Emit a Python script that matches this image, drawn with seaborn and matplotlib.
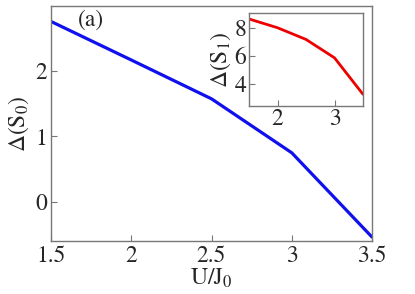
import matplotlib
matplotlib.use("Agg")
import matplotlib.pyplot as plt
import seaborn as sns
import pandas as pd

# Data
u_vals = [1.5, 2.0, 2.5, 3.0, 3.5]
delta_s0 = [2.745, 2.16, 1.57, 0.75, -0.53]
delta_s1 = [8.67, 8.04, 7.2, 5.88, 3.26]
main_xticks = [1.5, 2, 2.5, 3, 3.5]
main_xticklabels = ["1.5", "2", "2.5", "3", "3.5"]
main_yticks = [0, 1, 2]
inset_xticks = [2, 3]
inset_yticks = [4, 6, 8]

sns.set_style("ticks")
plt.rcParams['font.family'] = ['STIXGeneral', 'DejaVu Serif']
plt.rcParams['mathtext.fontset'] = 'stix'
plt.rcParams['mathtext.default'] = 'regular'

df = pd.DataFrame({"U": u_vals, "S0": delta_s0, "S1": delta_s1})

fig = plt.figure(figsize=(4.15, 2.94), dpi=100)
W, H = 415, 294
ax = fig.add_axes([51 / W, 1 - 241 / H, (372 - 51) / W, (241 - 6) / H])
sns.lineplot(data=df, x="U", y="S0", ax=ax, color="#1010ee", lw=2.3)
ax.set_xlim(1.5, 3.5)
ax.set_ylim(-0.59, 2.98)
ax.set_xticks(main_xticks)
ax.set_xticklabels(main_xticklabels)
ax.set_yticks(main_yticks)
ax.tick_params(direction="in", length=4, labelsize=17, color="#777777", pad=3)
for s in ax.spines.values():
    s.set_color("#777777")
    s.set_linewidth(1.0)
ax.set_xlabel("U/J$_0$", fontsize=17, labelpad=0)
ax.set_ylabel("Δ(S$_0$)", fontsize=17, labelpad=3)
ax.text(0.085, 0.985, "(a)", transform=ax.transAxes, fontsize=17, va="top", ha="left")

ax2 = fig.add_axes([249 / W, 1 - 106 / H, (363 - 249) / W, (106 - 12.7) / H])
sns.lineplot(data=df, x="U", y="S1", ax=ax2, color="#ee0000", lw=2.0)
ax2.set_xlim(1.5, 3.5)
ax2.set_ylim(2.42, 9.12)
ax2.set_xticks(inset_xticks)
ax2.set_yticks(inset_yticks)
ax2.tick_params(direction="in", length=4, labelsize=17, color="#777777", pad=2)
for s in ax2.spines.values():
    s.set_color("#777777")
    s.set_linewidth(1.0)
ax2.set_xlabel("")
ax2.set_ylabel("Δ(S$_1$)", fontsize=17, labelpad=1)

fig.savefig("out.png", dpi=100)
